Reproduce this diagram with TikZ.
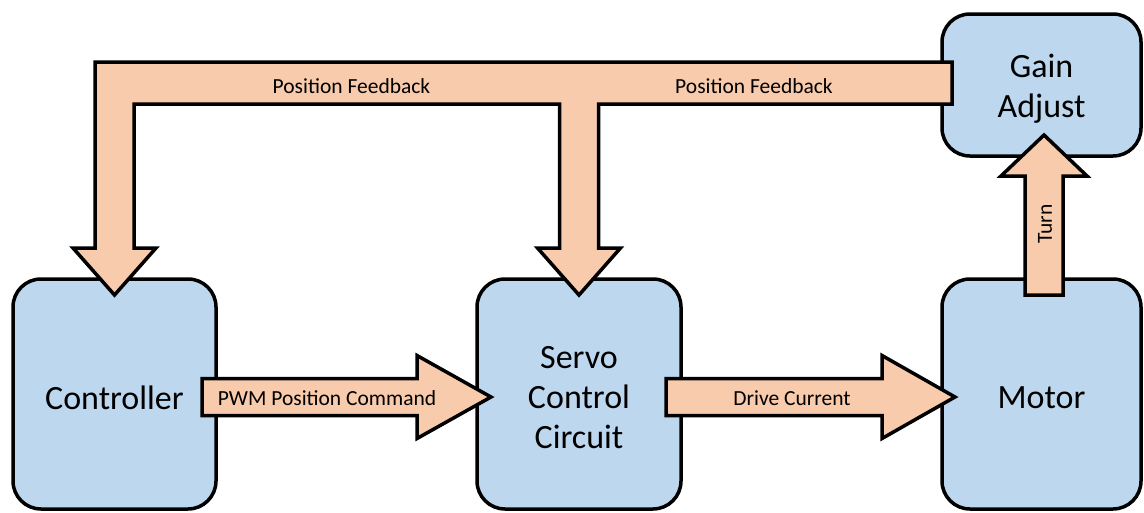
\documentclass[tikz,border=0pt]{standalone}
\usepackage{fontspec}
\setmainfont{Carlito}
\usetikzlibrary{calc}
\definecolor{boxblue}{HTML}{BDD7EE}
\definecolor{arrowtan}{HTML}{F8CBAD}
\tikzset{
  block/.style={draw=black, line width=3.5pt, fill=boxblue, rounded corners=28pt, outer sep=0pt},
  boxtext/.style={align=center, font=\fontsize{34}{40}\selectfont, yshift=-3.5pt},
  fatarrow/.style={draw=black, line width=3.5pt, fill=arrowtan, line join=miter},
  flowlabel/.style={font=\fontsize{21.5}{25}\selectfont, inner sep=0pt}
}
\begin{document}
\begin{tikzpicture}[x=1pt, y=-1pt]
  \useasboundingbox (0,0) rectangle (1144,512);
  % boxes
  \node[block, minimum width=203pt, minimum height=230pt,
    label={[boxtext]center:Controller}] (ctrl) at (114.5,394) {};
  \node[block, minimum width=204pt, minimum height=230pt,
    label={[boxtext]center:Servo\\Control\\Circuit}] (servo) at (579,394) {};
  \node[block, minimum width=199pt, minimum height=230pt,
    label={[boxtext]center:Motor}] (motor) at (1041.5,394) {};
  \node[block, minimum width=199pt, minimum height=142pt,
    label={[boxtext]center:Gain\\Adjust}] (gain) at (1041.5,85) {};
  % end points of the block arrows
  \coordinate (pwmA) at ($(ctrl.east)+(-14,3)$);
  \coordinate (pwmB) at ($(servo.west)+(14,3)$);
  \coordinate (drvA) at ($(servo.east)+(-15,3)$);
  \coordinate (drvB) at ($(motor.west)+(13,3)$);
  \coordinate (turnA) at ($(motor.north)+(2.5,16)$);
  \coordinate (turnB) at ($(gain.south)+(2.5,-21)$);
  \coordinate (fbL) at ($(ctrl.north)+(0,16)$);
  \coordinate (fbM) at ($(servo.north)+(0,16)$);
  \coordinate (fbR) at ($(gain.west)+(10,-2)$);
  % feedback bar
  \draw[fatarrow]
    ($(fbL|-fbR)+(-19.5,-21)$) -- ($(fbR)+(0,-21)$) -- ($(fbR)+(0,21)$)
    -- ($(fbM|-fbR)+(19.5,21)$) -- ($(fbM)+(19.5,-47)$) -- ($(fbM)+(41.5,-47)$)
    -- (fbM) -- ($(fbM)+(-41.5,-47)$) -- ($(fbM)+(-19.5,-47)$)
    -- ($(fbM|-fbR)+(-19.5,21)$) -- ($(fbL|-fbR)+(19.5,21)$)
    -- ($(fbL)+(19.5,-47)$) -- ($(fbL)+(41.5,-47)$) -- (fbL)
    -- ($(fbL)+(-41.5,-47)$) -- ($(fbL)+(-19.5,-47)$) -- cycle;
  \node[flowlabel] (fbtxtA) at ($(fbL|-fbR)+(237,3.5)$) {Position Feedback};
  \node[flowlabel] (fbtxtB) at ($(fbM|-fbR)+(175,3.5)$) {Position Feedback};
  % controller to servo
  \draw[fatarrow]
    ($(pwmA)+(0,-18.5)$) -- ($(pwmB)+(-74,-18.5)$) -- ($(pwmB)+(-74,-41.5)$) -- (pwmB)
    -- ($(pwmB)+(-74,41.5)$) -- ($(pwmB)+(-74,18.5)$) -- ($(pwmA)+(0,18.5)$) -- cycle;
  \node[flowlabel] (pwmtxt) at ($(pwmA)+(125,1)$) {PWM Position Command};
  % servo to motor
  \draw[fatarrow]
    ($(drvA)+(0,-18.5)$) -- ($(drvB)+(-73,-18.5)$) -- ($(drvB)+(-73,-41.5)$) -- (drvB)
    -- ($(drvB)+(-73,41.5)$) -- ($(drvB)+(-73,18.5)$) -- ($(drvA)+(0,18.5)$) -- cycle;
  \node[flowlabel] (drvtxt) at ($(drvA)+(126,1)$) {Drive Current};
  % motor to gain
  \draw[fatarrow]
    ($(turnA)+(-19,0)$) -- ($(turnB)+(-19,41)$) -- ($(turnB)+(-43,41)$) -- (turnB)
    -- ($(turnB)+(43,41)$) -- ($(turnB)+(19,41)$) -- ($(turnA)+(19,0)$) -- cycle;
  \node[flowlabel, rotate=90] (turntxt) at ($(turnA)+(1,-71)$) {Turn};
\end{tikzpicture}
\end{document}
